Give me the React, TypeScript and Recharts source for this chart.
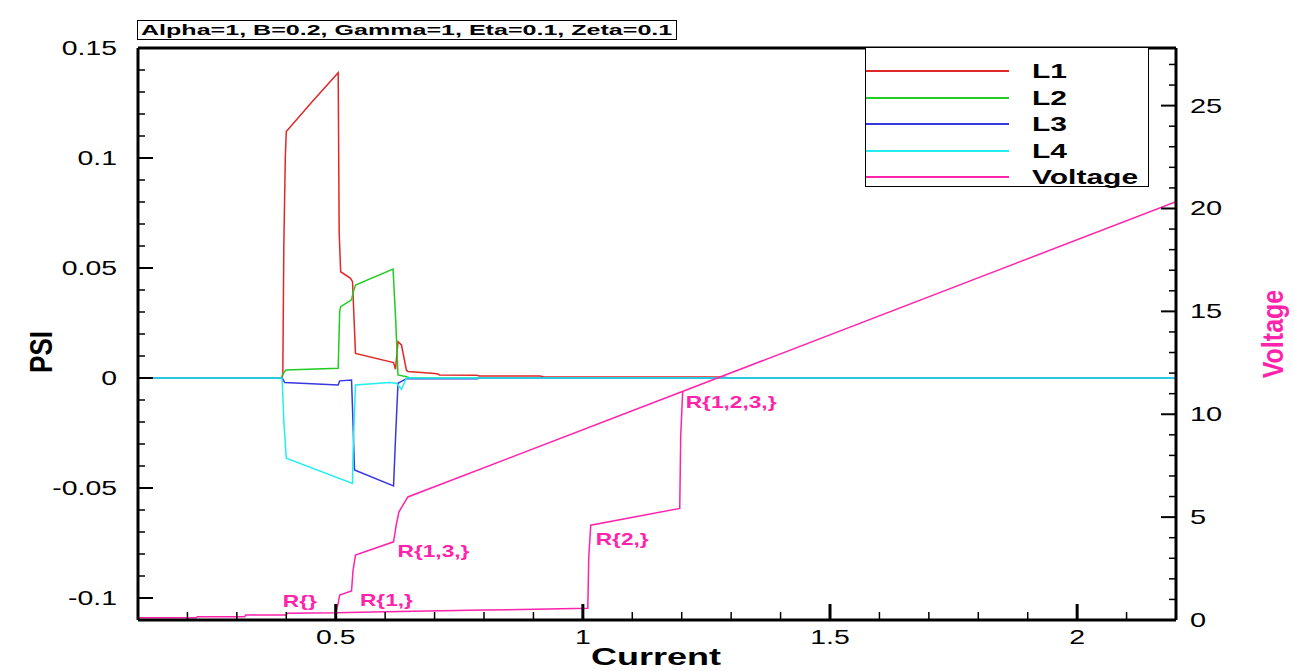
import { ComposedChart, Line, Scatter, XAxis, YAxis, ReferenceLine } from 'recharts'

const MAGENTA = '#ff22aa'
const FONT = '"Liberation Sans", Arial, sans-serif'

// PSI curves, current on x
const l1Current = [0.1, 0.391, 0.393, 0.395, 0.398, 0.4, 0.45, 0.505, 0.507, 0.51, 0.53, 0.534, 0.54, 0.617, 0.621, 0.626, 0.633, 0.643, 0.646, 0.7, 0.707, 0.71, 0.785, 0.79, 0.913, 0.92, 1.28, 1.3, 2.2]
const l1Psi = [0, 0, 0.0014, 0.06, 0.1, 0.112, 0.125, 0.1388, 0.066, 0.0483, 0.0453, 0.0438, 0.0112, 0.007, 0.004, 0.0165, 0.015, 0.0036, 0.003, 0.002, 0.0018, 0.0014, 0.0013, 0.0009, 0.0009, 0.0006, 0.0005, 0, 0]

const l2Current = [0.1, 0.391, 0.392, 0.399, 0.505, 0.508, 0.51, 0.532, 0.535, 0.54, 0.616, 0.621, 0.626, 0.643, 0.65, 2.2]
const l2Psi = [0, 0, 0.0014, 0.0036, 0.0044, 0.03, 0.0324, 0.0355, 0.0386, 0.0423, 0.0495, 0.0279, 0.0014, 0.0006, 0, 0]

const l3Current = [0.1, 0.391, 0.393, 0.397, 0.505, 0.508, 0.532, 0.534, 0.538, 0.617, 0.621, 0.626, 0.643, 0.787, 0.79, 2.2]
const l3Psi = [0, 0, -0.0005, -0.0021, -0.0032, -0.0013, -0.0009, -0.0138, -0.0418, -0.0491, -0.0274, -0.0024, -0.0003, -0.0003, 0, 0]

const l4Current = [0.1, 0.391, 0.392, 0.395, 0.4, 0.534, 0.535, 0.54, 0.609, 0.623, 0.633, 0.643, 2.2]
const l4Psi = [0, 0, -0.002, -0.0198, -0.0365, -0.0479, -0.0342, -0.0032, -0.0021, -0.0024, -0.0051, 0, 0]

// voltage, main path and the lower branch
const vMainCurrent = [0.1, 0.218, 0.22, 0.316, 0.318, 0.4, 0.402, 0.5, 0.505, 0.508, 0.532, 0.535, 0.54, 0.617, 0.623, 0.628, 0.646, 1.2, 2.2]
const vMainVoltage = [0.11, 0.11, 0.16, 0.16, 0.24, 0.24, 0.33, 0.35, 0.81, 1.21, 1.41, 2.4, 3.16, 3.8, 4.69, 5.26, 5.98, 11.09, 20.33]

const vLowCurrent = [0.5, 0.6, 0.8, 1.01, 1.012, 1.016, 1.196, 1.198, 1.202]
const vLowVoltage = [0.35, 0.4, 0.48, 0.57, 3.07, 4.61, 5.42, 8.98, 11.1]

const noteLabels = ['R{}', 'R{1,}', 'R{1,3,}', 'R{2,}', 'R{1,2,3,}']
const noteCurrent = [0.393, 0.549, 0.625, 1.026, 1.208]
const noteVoltage = [0.63, 0.68, 3.06, 3.64, 10.29]

const xMajor = [0.5, 1, 1.5, 2]
const xMajorLabels = ['0.5', '1', '1.5', '2']
const leftMajor = [-0.1, -0.05, 0, 0.05, 0.1, 0.15]
const leftMajorLabels = ['-0.1', '-0.05', '0', '0.05', '0.1', '0.15']
const rightMajor = [0, 5, 10, 15, 20, 25]
const rightMajorLabels = ['0', '5', '10', '15', '20', '25']

const xTicks = Array.from({ length: 22 }, (_, i) => Math.round((0.1 + i * 0.1) * 100) / 100)
const leftTicks = Array.from({ length: 27 }, (_, i) => Math.round((-0.11 + i * 0.01) * 1000) / 1000)
const rightTicks = Array.from({ length: 28 }, (_, i) => i)

const zip = (xs: number[], ys: number[]) => xs.map((x, i) => ({ x, y: ys[i] }))
const l1 = zip(l1Current, l1Psi)
const l2 = zip(l2Current, l2Psi)
const l3 = zip(l3Current, l3Psi)
const l4 = zip(l4Current, l4Psi)
const vMain = zip(vMainCurrent, vMainVoltage)
const vLow = zip(vLowCurrent, vLowVoltage)
const notes = noteLabels.map((label, i) => ({ x: noteCurrent[i], y: noteVoltage[i], label }))

const findLabel = (v: number, majors: number[], labels: string[]) => {
  const i = majors.findIndex(m => Math.abs(m - v) < 1e-6)
  return i >= 0 ? labels[i] : null
}

const LeftTick = (props: any) => {
  const { x, y, payload } = props
  const label = findLabel(payload.value, leftMajor, leftMajorLabels)
  return (
    <g>
      <line x1={x} x2={x + (label ? 15 : 7)} y1={y} y2={y} stroke="#000" strokeWidth={label ? 2 : 1.5} />
      {label && (
        <text transform={`translate(${x - 21},${y + 7}) scale(1.42,1)`} textAnchor="end" fontSize={20} fontFamily={FONT} fill="#000">{label}</text>
      )}
    </g>
  )
}

const RightTick = (props: any) => {
  const { x, y, payload } = props
  const label = findLabel(payload.value, rightMajor, rightMajorLabels)
  return (
    <g>
      <line x1={x} x2={x - (label ? 15 : 7)} y1={y} y2={y} stroke="#000" strokeWidth={label ? 2 : 1.5} />
      {label && (
        <text transform={`translate(${x + 14},${y + 7}) scale(1.45,1)`} textAnchor="start" fontSize={20} fontFamily={FONT} fill="#000">{label}</text>
      )}
    </g>
  )
}

const BottomTick = (props: any) => {
  const { x, y, payload } = props
  const label = findLabel(payload.value, xMajor, xMajorLabels)
  return (
    <g>
      <line x1={x} x2={x} y1={y} y2={y - (label ? 16 : 8)} stroke="#000" strokeWidth={label ? 3 : 1.5} />
      {label && (
        <text transform={`translate(${x},${y + 24}) scale(1.42,1)`} textAnchor="middle" fontSize={20} fontFamily={FONT} fill="#000">{label}</text>
      )}
    </g>
  )
}

const NoteLabel = (props: any) => {
  const { cx, cy, payload } = props
  return (
    <text transform={`translate(${cx},${cy}) scale(1.42,1)`} fontSize={16} fontWeight="bold" fontFamily={FONT} fill={MAGENTA}>{payload.label}</text>
  )
}

const legendItems = [
  { name: 'L1', color: '#e02828' },
  { name: 'L2', color: '#22cc22' },
  { name: 'L3', color: '#3838e0' },
  { name: 'L4', color: '#22eeee' },
  { name: 'Voltage', color: MAGENTA },
]

export default function App() {
  return (
    <div style={{ position: 'absolute', left: 0, top: 0, width: 1294, height: 671, background: '#fff', fontFamily: FONT, overflow: 'hidden' }}>
      <ComposedChart width={1294} height={671} margin={{ top: 48, right: 18, bottom: 6, left: 38 }}>
        <XAxis
          type="number"
          dataKey="x"
          domain={[0.1, 2.2]}
          allowDataOverflow
          ticks={xTicks}
          interval={0}
          height={45}
          tickSize={0}
          tickMargin={0}
          tickLine={false}
          axisLine={{ stroke: '#000', strokeWidth: 3 }}
          tick={<BottomTick />}
        />
        <YAxis
          yAxisId="left"
          type="number"
          domain={[-0.11, 0.15]}
          allowDataOverflow
          ticks={leftTicks}
          interval={0}
          width={100}
          tickSize={0}
          tickMargin={0}
          tickLine={false}
          axisLine={{ stroke: '#000', strokeWidth: 3 }}
          tick={<LeftTick />}
        />
        <YAxis
          yAxisId="right"
          orientation="right"
          type="number"
          domain={[0, 27.8]}
          allowDataOverflow
          ticks={rightTicks}
          interval={0}
          width={100}
          tickSize={0}
          tickMargin={0}
          tickLine={false}
          axisLine={{ stroke: '#000', strokeWidth: 3 }}
          tick={<RightTick />}
        />
        <ReferenceLine yAxisId="left" y={0.15} stroke="#000" strokeWidth={3} />
        <Line yAxisId="left" data={l1} dataKey="y" type="linear" stroke={legendItems[0].color} strokeWidth={1.5} dot={false} isAnimationActive={false} />
        <Line yAxisId="left" data={l2} dataKey="y" type="linear" stroke={legendItems[1].color} strokeWidth={1.5} dot={false} isAnimationActive={false} />
        <Line yAxisId="left" data={l3} dataKey="y" type="linear" stroke={legendItems[2].color} strokeWidth={1.5} dot={false} isAnimationActive={false} />
        <Line yAxisId="left" data={l4} dataKey="y" type="linear" stroke={legendItems[3].color} strokeWidth={1.5} dot={false} isAnimationActive={false} />
        <Line yAxisId="right" data={vMain} dataKey="y" type="linear" stroke={MAGENTA} strokeWidth={1.5} dot={false} isAnimationActive={false} />
        <Line yAxisId="right" data={vLow} dataKey="y" type="linear" stroke={MAGENTA} strokeWidth={1.5} dot={false} isAnimationActive={false} />
        <Scatter yAxisId="right" data={notes} dataKey="y" shape={<NoteLabel />} isAnimationActive={false} />
      </ComposedChart>

      {/* title box */}
      <div style={{ position: 'absolute', left: 137, top: 20, width: 538, height: 18, border: '1px solid #000', background: '#fff', overflow: 'hidden' }}>
        <span style={{ position: 'absolute', left: 3, top: 0, fontSize: 15, fontWeight: 'bold', lineHeight: '18px', whiteSpace: 'nowrap', transform: 'scaleX(1.67)', transformOrigin: 'left center' }}>
          Alpha=1, B=0.2, Gamma=1, Eta=0.1, Zeta=0.1
        </span>
      </div>

      {/* legend */}
      <div style={{ position: 'absolute', left: 865, top: 47, width: 282, height: 138, border: '1.5px solid #000', background: '#fff' }}>
        {legendItems.map((item, i) => (
          <div key={item.name} style={{ position: 'absolute', left: 0, top: 10 + i * 26.5, height: 26, width: 282 }}>
            <div style={{ position: 'absolute', left: 0, top: 12, width: 143, height: 2, background: item.color }} />
            <span style={{ position: 'absolute', left: 166, top: 0, fontSize: 20, fontWeight: 'bold', lineHeight: '26px', whiteSpace: 'nowrap', transform: 'scaleX(1.5)', transformOrigin: 'left center' }}>
              {item.name}
            </span>
          </div>
        ))}
      </div>

      {/* axis titles */}
      <div style={{ position: 'absolute', left: 656, top: 657, fontSize: 24, fontWeight: 'bold', lineHeight: '24px', whiteSpace: 'nowrap', transform: 'translate(-50%, -50%) scaleX(1.5)' }}>Current</div>
      <div style={{ position: 'absolute', left: 41, top: 352, fontSize: 26, fontWeight: 'bold', lineHeight: '26px', whiteSpace: 'nowrap', transform: 'translate(-50%, -50%) scale(1.2, 1) rotate(-90deg)' }}>PSI</div>
      <div style={{ position: 'absolute', left: 1273, top: 334, fontSize: 25, fontWeight: 'bold', lineHeight: '25px', whiteSpace: 'nowrap', color: MAGENTA, transform: 'translate(-50%, -50%) scale(1.15, 1) rotate(-90deg)' }}>Voltage</div>
    </div>
  )
}
